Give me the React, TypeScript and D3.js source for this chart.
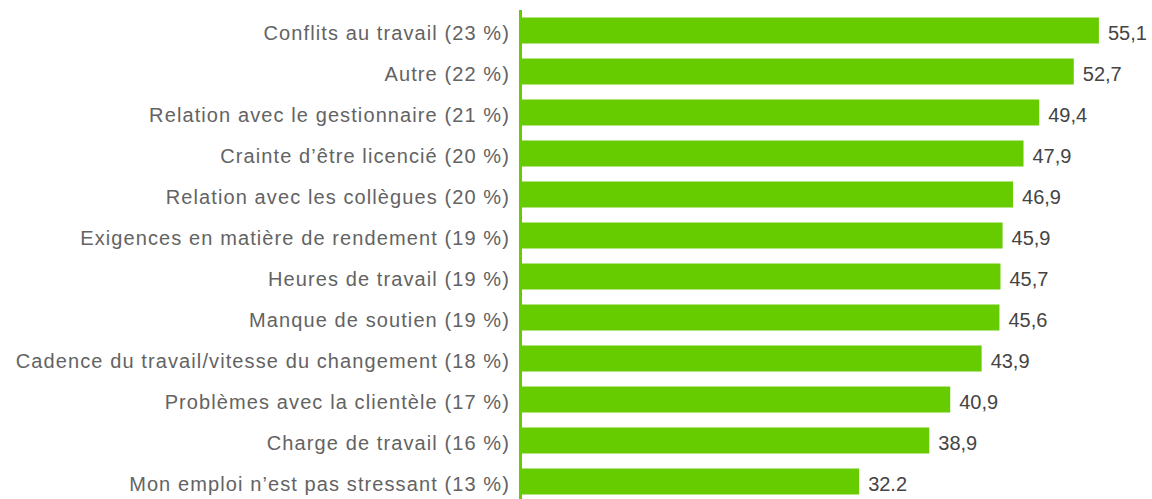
import React, { useEffect, useRef } from 'react';
import * as d3 from 'd3';

// libellés et valeurs
const categories = [
    'Conflits au travail (23 %)',
    'Autre (22 %)',
    'Relation avec le gestionnaire (21 %)',
    'Crainte d’être licencié (20 %)',
    'Relation avec les collègues (20 %)',
    'Exigences en matière de rendement (19 %)',
    'Heures de travail (19 %)',
    'Manque de soutien (19 %)',
    'Cadence du travail/vitesse du changement (18 %)',
    'Problèmes avec la clientèle (17 %)',
    'Charge de travail (16 %)',
    'Mon emploi n’est pas stressant (13 %)',
];
const values = [55.1, 52.7, 49.4, 47.9, 46.9, 45.9, 45.7, 45.6, 43.9, 40.9, 38.9, 32.2];
const valueLabels = ['55,1', '52,7', '49,4', '47,9', '46,9', '45,9', '45,7', '45,6', '43,9', '40,9', '38,9', '32.2'];

export default function App() {
    const ref = useRef<SVGSVGElement>(null);

    useEffect(() => {
        if (!ref.current) return;
        const width = 1152, height = 499;
        const svg = d3.select(ref.current);
        svg.selectAll('*').remove();

        const green = '#66cc00';
        const font = "'Liberation Sans', Arial, sans-serif";

        const x = d3.scaleLinear().domain([0, 60]).range([522, 522 + 60 * 10.47]);
        const y = d3.scaleBand<string>()
            .domain(categories)
            .range([10, 502])
            .paddingInner(0.366)
            .paddingOuter(0.183);

        // barres
        svg.append('g').selectAll('rect')
            .data(values).join('rect')
            .attr('x', x(0))
            .attr('y', (d, i) => y(categories[i])!)
            .attr('width', d => x(d) - x(0))
            .attr('height', y.bandwidth())
            .attr('fill', green);

        // axe vertical
        svg.append('line')
            .attr('x1', 520.5).attr('x2', 520.5)
            .attr('y1', 10).attr('y2', height)
            .attr('stroke', green).attr('stroke-width', 3);

        // libellés des catégories
        svg.append('g').selectAll('text')
            .data(categories).join('text')
            .attr('x', 510)
            .attr('y', d => y(d)! + y.bandwidth() / 2 + 2.5)
            .attr('dy', '0.35em')
            .attr('text-anchor', 'end')
            .style('font-family', font)
            .style('font-size', '20px')
            .style('letter-spacing', '1.1px')
            .attr('fill', '#636363')
            .text(d => d);

        // valeurs
        svg.append('g').selectAll('text')
            .data(values).join('text')
            .attr('x', d => x(d) + 9)
            .attr('y', (d, i) => y(categories[i])! + y.bandwidth() / 2 + 2.5)
            .attr('dy', '0.35em')
            .style('font-family', font)
            .style('font-size', '20px')
            .attr('fill', '#444')
            .text((d, i) => valueLabels[i]);

        svg.attr('width', width).attr('height', height);
    }, []);

    return (
        <svg ref={ref} width={1152} height={499}
            style={{ position: 'absolute', left: 0, top: 0, background: '#fff' }} />
    );
}
